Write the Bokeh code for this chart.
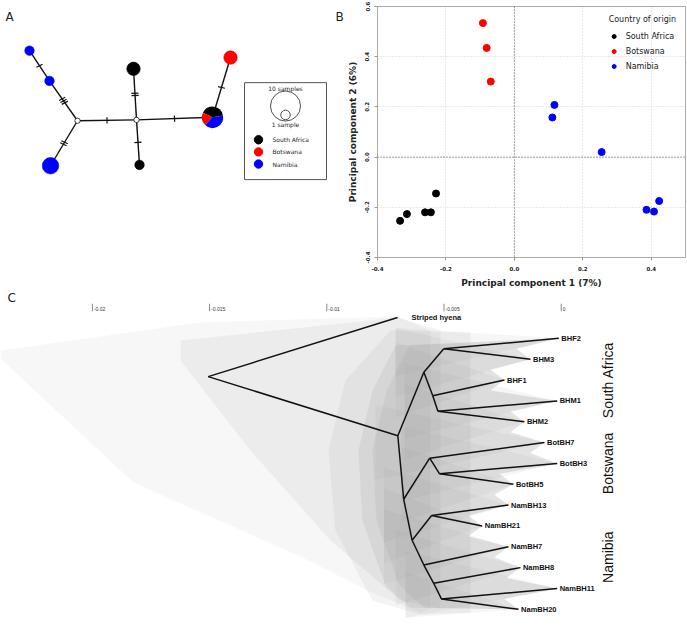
import math
from bokeh.plotting import figure
from bokeh.models import Range1d, Span, FixedTicker, CustomJSTickFormatter, Label
from bokeh.layouts import column, row
from bokeh.embed import file_html
from bokeh.resources import INLINE
from bokeh.core.properties import value

DEJAVU = "DejaVu Sans"
ARIAL = "Liberation Sans"

# ================= DATA =================
country_names = ["South Africa", "Botswana", "Namibia"]
country_colors = ["#000000", "#ff0000", "#0000ff"]

# ---- Panel A: haplotype network ----
hap_ids = ["Nam1", "Nam2", "Nam3", "SA1", "SA2", "Bot1", "Mix"]
hap_count_sa = [0, 0, 0, 2, 1, 0, 2]
hap_count_bot = [0, 0, 0, 0, 0, 2, 1]
hap_count_nam = [1, 1, 3, 0, 0, 0, 2]
median_ids = ["mv1", "mv2"]
net_edge_from = ["mv1", "Nam2", "mv1", "mv1", "mv2", "mv2", "mv2", "Mix"]
net_edge_to = ["Nam2", "Nam1", "Nam3", "mv2", "SA1", "SA2", "Mix", "Bot1"]
net_edge_mutations = [3, 1, 2, 1, 2, 1, 1, 1]
size_legend_counts = [10, 1]
size_legend_labels = ["10 samples", "1 sample"]

# ---- Panel B: PCA ----
pc1_south_africa = [-0.334, -0.314, -0.261, -0.244, -0.229]
pc2_south_africa = [-0.254, -0.227, -0.220, -0.220, -0.145]
pc1_botswana = [-0.092, -0.081, -0.069]
pc2_botswana = [0.534, 0.435, 0.301]
pc1_namibia = [0.117, 0.111, 0.255, 0.386, 0.408, 0.423]
pc2_namibia = [0.208, 0.158, 0.020, -0.210, -0.217, -0.175]
pc1_ticks = [-0.4, -0.2, 0.0, 0.2, 0.4]
pc2_ticks = [-0.4, -0.2, 0.0, 0.2, 0.4, 0.6]
pc1_label = "Principal component 1 (7%)"
pc2_label = "Principal component 2 (6%)"
legend_title = "Country of origin"

# ---- Panel C: tree ----
tip_labels = ["Striped hyena", "BHF2", "BHM3", "BHF1", "BHM1", "BHM2",
              "BotBH7", "BotBH3", "BotBH5", "NamBH13", "NamBH21",
              "NamBH7", "NamBH8", "NamBH11", "NamBH20"]
tip_depth = [-0.00698, -0.000102, -0.00131, -0.00242, -0.000171, -0.00157,
             -0.000712, -0.000171, -0.00204, -0.00225, -0.00337,
             -0.00225, -0.00174, -0.000171, -0.00182]
node_names = ["a", "b", "c", "d", "e", "f", "g", "h", "i", "j", "k", "l", "m", "root"]
node_children = [["BHF2", "BHM3"], ["BHF1", "c"], ["BHM1", "BHM2"], ["a", "b"],
                 ["BotBH7", "f"], ["BotBH3", "BotBH5"], ["NamBH13", "NamBH21"],
                 ["NamBH7", "i"], ["NamBH8", "j"], ["NamBH11", "NamBH20"],
                 ["g", "h"], ["e", "k"], ["d", "l"], ["Striped hyena", "m"]]
node_depth = [-0.00501, -0.00548, -0.00526, -0.00586, -0.00561, -0.00519, -0.00553,
              -0.00586, -0.00544, -0.00511, -0.00636, -0.00672, -0.00697, -0.01506]
clade_names = ["South Africa", "Botswana", "Namibia"]
clade_tips = [["BHF2", "BHM3", "BHF1", "BHM1", "BHM2"],
              ["BotBH7", "BotBH3", "BotBH5"],
              ["NamBH13", "NamBH21", "NamBH7", "NamBH8", "NamBH11", "NamBH20"]]
scale_ticks = [-0.02, -0.015, -0.01, -0.005, 0.0]
scale_tick_labels = ["-0.02", "-0.015", "-0.01", "-0.005", "0"]
# envelopes of the posterior tree cloud (depth, tip-order position)
cloud_outer_x = [-0.02392, -0.01539, -0.00698, -0.00558, -0.00558, -0.00600, -0.00826, -0.01112, -0.01825, -0.02392]
cloud_outer_y = [1.58, 0.24, -0.05, 0.62, 13.96, 14.16, 13.10, 11.47, 7.92, 1.97]
cloud_inner_x = [-0.01624, -0.00698, -0.00515, -0.00515, -0.00686, -0.00984, -0.01326, -0.01624]
cloud_inner_y = [1.10, 0.0, 0.62, 13.96, 13.58, 10.70, 6.38, 2.06]
cloud_halo_x = [-0.00728, -0.00921, -0.00993, -0.00963, -0.00806, -0.00600, -0.00387, -0.00387]
cloud_halo_y = [0.62, 3.02, 6.38, 10.22, 13.58, 14.25, 14.16, 0.72]
cloud_core_left_x = [-0.00707, -0.00805, -0.00865, -0.00848, -0.00750, -0.00643]
cloud_core_left_y = [1.34, 3.50, 6.38, 9.74, 12.86, 13.92]

# ================= PANEL A =================
layout_x = {"Nam1": 29, "Nam2": 49, "Nam3": 50, "SA1": 133, "SA2": 139,
            "Bot1": 230, "Mix": 212, "mv1": 77, "mv2": 136}
layout_y = {"Nam1": 239, "Nam2": 204, "Nam3": 106, "SA1": 218, "SA2": 107,
            "Bot1": 231, "Mix": 162, "mv1": 158, "mv2": 159}
R_SCALE = 4.75
PIE_START = math.radians(10)

pa = figure(width=344, height=290, x_range=Range1d(0, 344), y_range=Range1d(0, 290),
            output_backend="svg", toolbar_location=None, x_axis_type=None,
            y_axis_type=None, min_border=0)
pa.outline_line_color = None

ex, ey = [], []
hx0, hy0, hx1, hy1 = [], [], [], []
for a, b, k in zip(net_edge_from, net_edge_to, net_edge_mutations):
    x0, y0, x1, y1 = layout_x[a], layout_y[a], layout_x[b], layout_y[b]
    ex.append([x0, x1]); ey.append([y0, y1])
    L = math.hypot(x1 - x0, y1 - y0)
    dx, dy = (x1 - x0) / L, (y1 - y0) / L
    nx, ny = -dy, dx
    mx, my = (x0 + x1) / 2, (y0 + y1) / 2
    for j in range(k):
        t = (j - (k - 1) / 2) * 2.6
        cx, cy = mx + t * dx, my + t * dy
        hx0.append(cx - 3.6 * nx); hy0.append(cy - 3.6 * ny)
        hx1.append(cx + 3.6 * nx); hy1.append(cy + 3.6 * ny)
pa.multi_line(ex, ey, line_color="#111111", line_width=1.4)
pa.segment(hx0, hy0, hx1, hy1, line_color="#111111", line_width=1.2)

for i, h in enumerate(hap_ids):
    counts = [hap_count_sa[i], hap_count_bot[i], hap_count_nam[i]]
    n = sum(counts)
    r = R_SCALE * math.sqrt(n)
    present = [c for c in range(3) if counts[c] > 0]
    if len(present) == 1:
        col = country_colors[present[0]]
        pa.circle([layout_x[h]], [layout_y[h]], radius=r, fill_color=col,
                  line_color=col, line_width=0.6)
    else:
        ang = PIE_START
        for c in range(3):
            if counts[c] == 0:
                continue
            span = 2 * math.pi * counts[c] / n
            pa.wedge([layout_x[h]], [layout_y[h]], radius=r, start_angle=ang,
                     end_angle=ang + span, fill_color=country_colors[c],
                     line_color=None)
            ang += span
for m_id in median_ids:
    pa.circle([layout_x[m_id]], [layout_y[m_id]], radius=2.7, fill_color="white",
              line_color="#111111", line_width=0.8)

pa.quad(left=[244], right=[326], bottom=[90], top=[202], fill_color=None,
        line_color="#555555", line_width=1)
r_big = R_SCALE * math.sqrt(size_legend_counts[0])
r_small = R_SCALE * math.sqrt(size_legend_counts[1])
cy_big = 175
pa.circle([285, 285], [cy_big, cy_big - r_big + r_small], radius=[r_big, r_small],
          fill_color="white", line_color="#222222", line_width=0.8)
pa.text([285, 285], [cy_big + r_big + 5.5, cy_big - r_big - 6], text=size_legend_labels,
        text_align="center", text_baseline="middle", text_font=value(DEJAVU),
        text_font_size="6px", text_color="#222222")
leg_y = [136, 122, 108]
pa.circle([258] * 3, leg_y, radius=4.2, fill_color=country_colors, line_color=country_colors)
pa.text([272] * 3, leg_y, text=country_names, text_baseline="middle",
        text_font=value(DEJAVU), text_font_size="6px", text_color="#222222")

pa.add_layout(Label(x=5, y=286, text="A", text_baseline="top", text_font=DEJAVU,
                    text_font_size="12px", text_color="#222222"))
pa.add_layout(Label(x=335, y=286, text="B", text_baseline="top", text_font=DEJAVU,
                    text_font_size="12px", text_color="#222222"))

# ================= PANEL B =================
pb = figure(width=343, height=290, x_range=Range1d(-0.4, 0.5), y_range=Range1d(-0.4, 0.6),
            output_backend="svg", toolbar_location=None, min_border_left=32,
            min_border_right=2, min_border_top=6, min_border_bottom=33)
pb.outline_line_color = "#aaaaaa"
pb.xaxis.ticker = FixedTicker(ticks=pc1_ticks)
pb.yaxis.ticker = FixedTicker(ticks=pc2_ticks)
for ax in (pb.xaxis[0], pb.yaxis[0]):
    ax.formatter = CustomJSTickFormatter(code="return tick.toFixed(1)")
    ax.axis_line_color = None
    ax.major_tick_line_color = "#999999"
    ax.major_tick_out = 3
    ax.major_tick_in = 0
    ax.minor_tick_line_color = None
    ax.major_label_text_font = DEJAVU
    ax.major_label_text_font_size = "5.5px"
    ax.major_label_text_font_style = "bold"
    ax.major_label_text_color = "#222222"
    ax.axis_label_text_font = DEJAVU
    ax.axis_label_text_font_size = "9px"
    ax.axis_label_text_font_style = "bold"
    ax.axis_label_text_color = "#222222"
    ax.major_label_standoff = 5
    ax.axis_label_standoff = 4
pb.xaxis.axis_label = pc1_label
pb.yaxis.axis_label = pc2_label
pb.yaxis.major_label_orientation = "vertical"
pb.grid.grid_line_color = "#d4d4d4"
pb.grid.grid_line_dash = "1 2"
pb.add_layout(Span(location=0, dimension="height", line_color="#555555", line_dash="1 2", line_width=1))
pb.add_layout(Span(location=0, dimension="width", line_color="#555555", line_dash="1 2", line_width=1))

pb.scatter(pc1_south_africa, pc2_south_africa, size=7, color=country_colors[0], legend_label=country_names[0])
pb.scatter(pc1_botswana, pc2_botswana, size=7, color=country_colors[1], legend_label=country_names[1])
pb.scatter(pc1_namibia, pc2_namibia, size=7, color=country_colors[2], legend_label=country_names[2])
lg = pb.legend[0]
lg.title = legend_title
lg.title_text_font = DEJAVU
lg.title_text_font_size = "8px"
lg.title_text_font_style = "normal"
lg.title_text_color = "#222222"
lg.title_standoff = 7
lg.label_text_font = DEJAVU
lg.label_text_font_size = "8px"
lg.label_text_color = "#222222"
lg.location = "top_right"
lg.margin = 9
lg.padding = 3
lg.glyph_width = 10
lg.glyph_height = 10
lg.label_height = 10
lg.label_standoff = 7
lg.spacing = 5
lg.border_line_color = None
lg.background_fill_alpha = 0

# ================= PANEL C =================
X0 = -0.023921
X1 = 0.005388
pc = figure(width=687, height=338, x_range=Range1d(X0, X1), y_range=Range1d(14.92, -1.296),
            output_backend="svg", toolbar_location=None, x_axis_type=None,
            y_axis_type=None, min_border=0)
pc.outline_line_color = None

pos_x, pos_y = {}, {}
for i, (t, d) in enumerate(zip(tip_labels, tip_depth)):
    pos_x[t] = d
    pos_y[t] = float(i)
children = dict(zip(node_names, node_children))
depths = dict(zip(node_names, node_depth))
parent = {}
for n in node_names:
    for c in children[n]:
        parent[c] = n


def place(n):
    if n in pos_y:
        return pos_y[n]
    ys = [place(c) for c in children[n]]
    pos_y[n] = sum(ys) / len(ys)
    pos_x[n] = depths[n]
    return pos_y[n]


place("root")
ingroup = tip_labels[1:]

# posterior cloud (grey)
CLOUD = "#8a8a8a"
pc.patch(cloud_outer_x, cloud_outer_y, fill_color=CLOUD, fill_alpha=0.07, line_color=None)
pc.patch(cloud_inner_x, cloud_inner_y, fill_color=CLOUD, fill_alpha=0.09, line_color=None)
pc.patch(cloud_halo_x, cloud_halo_y, fill_color=CLOUD, fill_alpha=0.09, line_color=None)
# dense core: left envelope, then back up through the tips (two soft steps)
for shift, alpha in ((0.0, 0.13), (0.0006, 0.13)):
    core_x = [x + shift for x in cloud_core_left_x]
    core_y = list(cloud_core_left_y)
    rev = ingroup[::-1]
    for j, t in enumerate(rev):
        core_x.append(pos_x[t]); core_y.append(pos_y[t])
        if j + 1 < len(rev):
            nb = rev[j + 1]
            core_x.append(min(pos_x[t], pos_x[nb]) - 0.0006)
            core_y.append((pos_y[t] + pos_y[nb]) / 2)
    pc.patch(core_x, core_y, fill_color=CLOUD, fill_alpha=alpha, line_color=None)
# converging spikes at the tips
txs, tys = [], []
for t in ingroup:
    yi = pos_y[t]
    left = pos_x[parent[parent[t]]] - 0.0012
    txs.append([pos_x[t], left, left])
    tys.append([yi, max(0.5, yi - 1.8), min(14.4, yi + 1.8)])
pc.patches(txs, tys, fill_color=CLOUD, fill_alpha=0.08, line_color=None)

# consensus tree
exs, eys = [], []
for n in node_names:
    for c in children[n]:
        exs.append([pos_x[n], pos_x[c]])
        eys.append([pos_y[n], pos_y[c]])
pc.multi_line(exs, eys, line_color="#111111", line_width=1.5)

# tip labels
pc.text([pos_x[t] for t in ingroup], [pos_y[t] for t in ingroup], text=ingroup,
        x_offset=2.5, text_baseline="middle", text_font=value(ARIAL),
        text_font_size="7.5px", text_font_style="bold", text_color="#111111")
pc.text([pos_x[tip_labels[0]]], [pos_y[tip_labels[0]]], text=[tip_labels[0]],
        x_offset=14, text_baseline="middle", text_font=value(ARIAL),
        text_font_size="7.5px", text_font_style="bold", text_color="#111111")

# clade labels
CLADE_X = 0.00198
pc.text([CLADE_X] * 3, [sum(pos_y[t] for t in tips) / len(tips) for tips in clade_tips],
        text=clade_names, angle=math.pi / 2, text_align="center", text_baseline="middle",
        text_font=value(ARIAL), text_font_size="14px", text_color="#111111")

# time scale at top
pc.segment(scale_ticks, [-0.66] * 5, scale_ticks, [-0.30] * 5, line_color="#555555", line_width=0.7)
pc.text(scale_ticks, [-0.30] * 5, text=scale_tick_labels, x_offset=1.5,
        text_baseline="bottom", text_font=value(ARIAL), text_font_size="5px",
        text_color="#333333")

pc.add_layout(Label(x=X0 + 0.0003, y=-1.27, text="C", text_baseline="top", text_font=DEJAVU,
                    text_font_size="12px", text_color="#222222"))

page = column(row(pa, pb), pc)
open("out.html", "w").write(file_html(page, INLINE))
